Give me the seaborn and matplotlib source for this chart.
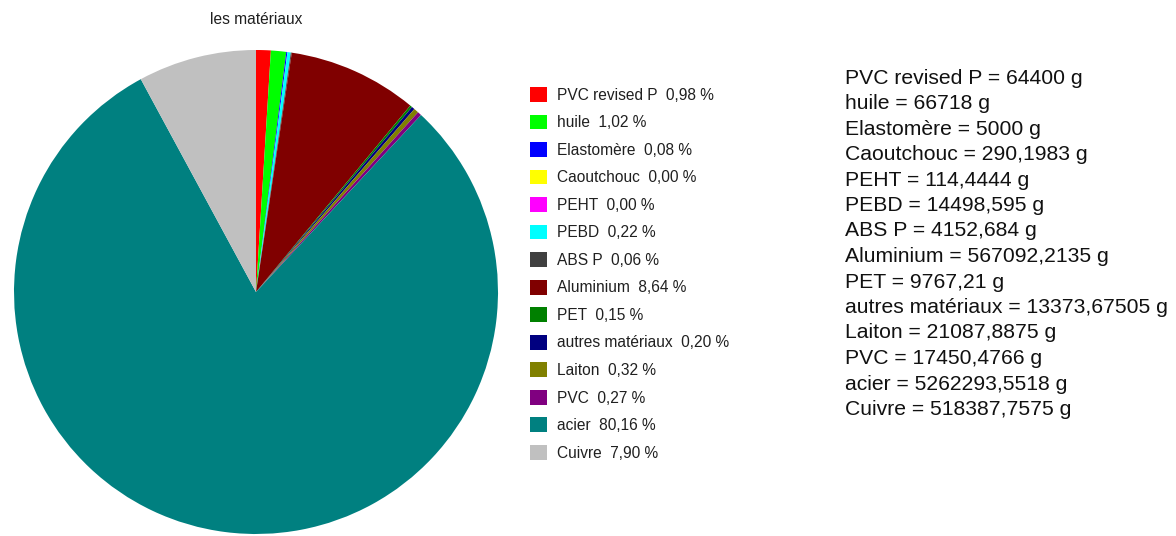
import matplotlib
matplotlib.use("Agg")
import matplotlib.pyplot as plt
from matplotlib import font_manager
import seaborn as sns

# Material masses (grams)
materials = ["PVC revised P", "huile", "Elastomère", "Caoutchouc", "PEHT", "PEBD",
             "ABS P", "Aluminium", "PET", "autres matériaux", "Laiton", "PVC",
             "acier", "Cuivre"]
masses = [64400, 66718, 5000, 290.1983, 114.4444, 14498.595,
          4152.684, 567092.2135, 9767.21, 13373.67505, 21087.8875, 17450.4766,
          5262293.5518, 518387.7575]
colors = ["#FF0000", "#00FF00", "#0000FF", "#FFFF00", "#FF00FF", "#00FFFF",
          "#404040", "#800000", "#008000", "#000080", "#808000", "#800080",
          "#008080", "#C0C0C0"]
title = "les matériaux"

sns.set_theme(style="white")
installed = {f.name for f in font_manager.fontManager.ttflist}
base_font = "Liberation Sans" if "Liberation Sans" in installed else "DejaVu Sans"
plt.rcParams["font.family"] = [base_font, "DejaVu Sans"]

W, H = 1176, 536
fig = plt.figure(figsize=(W / 100, H / 100), dpi=100, facecolor="white")

# Pie area
ax = fig.add_axes([14 / W, 1 - 534 / H, 484 / W, 484 / H])
wedges, _ = ax.pie(masses, colors=colors, startangle=90, counterclock=False,
                   radius=1.0, wedgeprops=dict(linewidth=0))
ax.set_xlim(-1, 1)
ax.set_ylim(-1, 1)
ax.set_aspect("equal")
ax.axis("off")

fig.text(256 / W, 1 - 19 / H, title, ha="center", va="center", fontsize=11.2,
         color="#202020")

# Legend with percentage shares
total = sum(masses)
labels = [f"{m}  {100 * v / total:.2f} %".replace(".", ",") for m, v in zip(materials, masses)]
fig.legend(wedges, labels, loc="upper left", bbox_to_anchor=(530 / W, 1 - 87 / H),
           frameon=False, fontsize=11.2, handlelength=1.09, handleheight=1.09,
           handletextpad=0.62, labelspacing=0.76, borderpad=0, borderaxespad=0,
           labelcolor="#202020")

# Mass listing
def fmt_mass(v):
    return repr(v).replace(".", ",")

for i, (m, v) in enumerate(zip(materials, masses)):
    fig.text(845 / W, 1 - (78 + i * 25.5) / H, f"{m} = {fmt_mass(v)} g",
             ha="left", va="center", fontsize=15.2, color="#111111")

fig.savefig("out.png", dpi=100, facecolor="white")
